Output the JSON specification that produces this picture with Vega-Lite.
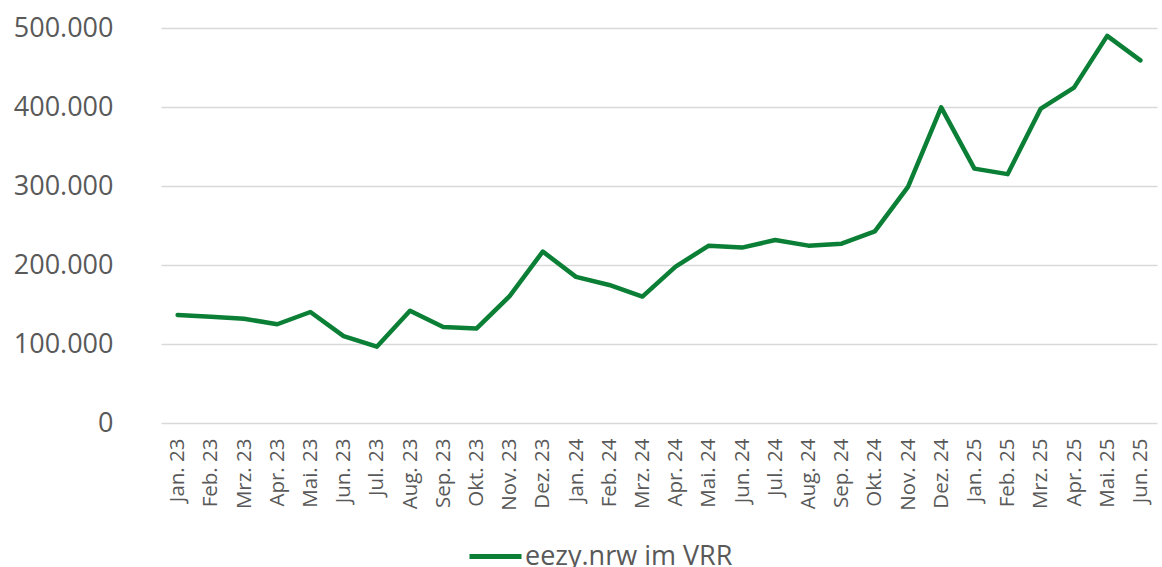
{
  "$schema": "https://vega.github.io/schema/vega-lite/v6.json",
  "width": 1019,
  "height": 395,
  "autosize": {"type": "none"},
  "padding": {"left": 143, "top": 28, "right": 0, "bottom": 144},
  "background": "white",
  "config": {
    "locale": {"number": {"decimal": ",", "thousands": ".", "grouping": [3], "currency": ["", " €"]}},
    "view": {"stroke": null},
    "font": "Open Sans"
  },
  "data": {
    "values": [
      {"monat": "Jan. 23", "fahrten": 136700, "serie": "eezy.nrw im VRR"},
      {"monat": "Feb. 23", "fahrten": 134500, "serie": "eezy.nrw im VRR"},
      {"monat": "Mrz. 23", "fahrten": 132000, "serie": "eezy.nrw im VRR"},
      {"monat": "Apr. 23", "fahrten": 125000, "serie": "eezy.nrw im VRR"},
      {"monat": "Mai. 23", "fahrten": 140500, "serie": "eezy.nrw im VRR"},
      {"monat": "Jun. 23", "fahrten": 110000, "serie": "eezy.nrw im VRR"},
      {"monat": "Jul. 23", "fahrten": 96600, "serie": "eezy.nrw im VRR"},
      {"monat": "Aug. 23", "fahrten": 142000, "serie": "eezy.nrw im VRR"},
      {"monat": "Sep. 23", "fahrten": 121500, "serie": "eezy.nrw im VRR"},
      {"monat": "Okt. 23", "fahrten": 119500, "serie": "eezy.nrw im VRR"},
      {"monat": "Nov. 23", "fahrten": 160500, "serie": "eezy.nrw im VRR"},
      {"monat": "Dez. 23", "fahrten": 217000, "serie": "eezy.nrw im VRR"},
      {"monat": "Jan. 24", "fahrten": 185000, "serie": "eezy.nrw im VRR"},
      {"monat": "Feb. 24", "fahrten": 174700, "serie": "eezy.nrw im VRR"},
      {"monat": "Mrz. 24", "fahrten": 160000, "serie": "eezy.nrw im VRR"},
      {"monat": "Apr. 24", "fahrten": 198000, "serie": "eezy.nrw im VRR"},
      {"monat": "Mai. 24", "fahrten": 224500, "serie": "eezy.nrw im VRR"},
      {"monat": "Jun. 24", "fahrten": 222000, "serie": "eezy.nrw im VRR"},
      {"monat": "Jul. 24", "fahrten": 231600, "serie": "eezy.nrw im VRR"},
      {"monat": "Aug. 24", "fahrten": 224500, "serie": "eezy.nrw im VRR"},
      {"monat": "Sep. 24", "fahrten": 227000, "serie": "eezy.nrw im VRR"},
      {"monat": "Okt. 24", "fahrten": 242500, "serie": "eezy.nrw im VRR"},
      {"monat": "Nov. 24", "fahrten": 299000, "serie": "eezy.nrw im VRR"},
      {"monat": "Dez. 24", "fahrten": 399600, "serie": "eezy.nrw im VRR"},
      {"monat": "Jan. 25", "fahrten": 322000, "serie": "eezy.nrw im VRR"},
      {"monat": "Feb. 25", "fahrten": 315000, "serie": "eezy.nrw im VRR"},
      {"monat": "Mrz. 25", "fahrten": 398000, "serie": "eezy.nrw im VRR"},
      {"monat": "Apr. 25", "fahrten": 424500, "serie": "eezy.nrw im VRR"},
      {"monat": "Mai. 25", "fahrten": 490000, "serie": "eezy.nrw im VRR"},
      {"monat": "Jun. 25", "fahrten": 459000, "serie": "eezy.nrw im VRR"}
    ]
  },
  "mark": {"type": "line", "strokeWidth": 4.5, "strokeJoin": "round", "strokeCap": "round"},
  "encoding": {
    "x": {
      "field": "monat",
      "type": "ordinal",
      "sort": null,
      "scale": {"type": "point", "range": [18, 1014]},
      "axis": {
        "title": null,
        "labelAngle": -90,
        "labelFontSize": 20.5,
        "labelColor": "#595959",
        "labelPadding": 15,
        "ticks": false,
        "domain": false,
        "grid": false
      }
    },
    "y": {
      "field": "fahrten",
      "type": "quantitative",
      "scale": {"domain": [0, 500000], "nice": false},
      "axis": {
        "title": null,
        "values": [0, 100000, 200000, 300000, 400000, 500000],
        "format": ",d",
        "labelFontSize": 27,
        "labelColor": "#595959",
        "labelPadding": 30,
        "ticks": false,
        "domain": false,
        "grid": true,
        "gridColor": "#D9D9D9",
        "gridWidth": 1.3
      }
    },
    "color": {
      "field": "serie",
      "type": "nominal",
      "scale": {"range": ["#0B7F35"]},
      "legend": {
        "title": null,
        "orient": "none",
        "legendX": 324,
        "legendY": 500,
        "symbolType": "stroke",
        "symbolSize": 2704,
        "symbolStrokeWidth": 5,
        "labelFontSize": 27,
        "labelLimit": 500,
        "labelColor": "#595959",
        "labelOffset": 1
      }
    }
  }
}
